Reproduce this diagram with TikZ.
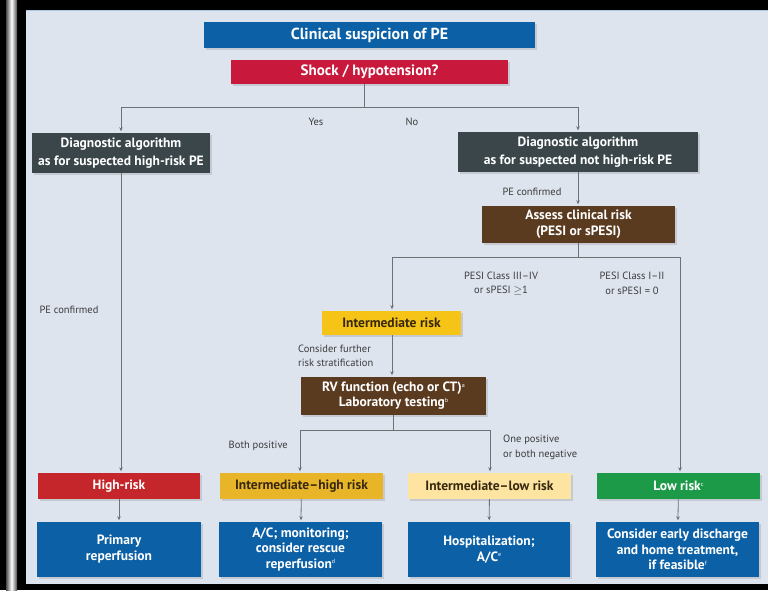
\documentclass[tikz,border=0pt]{standalone}
\usepackage{fontspec}
\setmainfont{PT Sans}
\usetikzlibrary{arrows.meta,shadows,calc}
\definecolor{bgc}{RGB}{221,228,238}
\definecolor{cblue}{RGB}{11,96,166}
\definecolor{cshock}{RGB}{200,24,60}
\definecolor{cslate}{RGB}{58,70,74}
\definecolor{cbrown}{RGB}{91,59,32}
\definecolor{cinter}{RGB}{246,196,23}
\definecolor{chigh}{RGB}{197,38,43}
\definecolor{cihigh}{RGB}{233,181,40}
\definecolor{cilow}{RGB}{253,228,160}
\definecolor{cgreen}{RGB}{28,154,72}
\definecolor{cline}{RGB}{110,112,115}
\definecolor{ctxt}{RGB}{60,60,60}
\definecolor{cdark}{RGB}{55,40,15}
\definecolor{ctop}{RGB}{170,200,230}
\newcommand\fnmark[1]{\raisebox{4.5pt}{\fontsize{6}{6}\selectfont\mdseries #1}}
\begin{document}
\begin{tikzpicture}[x=1pt,y=-1pt,
  box/.style={rectangle, inner sep=1pt, align=center, text=white,
    font=\bfseries\fontsize{13.5}{16}\selectfont,
    drop shadow={shadow xshift=1.5pt, shadow yshift=-1.5pt, opacity=0.25}},
  bigbox/.style={box, font=\bfseries\fontsize{16}{18}\selectfont},
  diagbox/.style={box, fill=cslate, font=\bfseries\fontsize{13.5}{18.5}\selectfont},
  lab/.style={inner sep=0pt, align=center, text=ctxt, font=\fontsize{10.5}{14.5}\selectfont},
  conn/.style={draw=cline, line width=0.8pt},
  arr/.style={conn, -{Stealth[length=4pt,width=3.5pt]}, shorten >=1.5pt}]
\useasboundingbox (0,0) rectangle (768,590);
\fill[black] (0,0) rectangle (768,590);
\shade[left color=black!70, right color=black!70, middle color=white] (6,0) rectangle (17,590);
\fill[bgc] (26,10) rectangle (768,584);
\draw[ctop, line width=0.8pt] (26,10.5) -- (768,10.5);

% boxes
\node[bigbox, fill=cblue, minimum width=331pt, minimum height=26pt] (clin) at (369.5,35) {Clinical suspicion of PE};
\node[bigbox, fill=cshock, minimum width=277pt, minimum height=24pt, font=\bfseries\fontsize{15}{18}\selectfont] (shock) at (369.5,72) {Shock / hypotension?};
\node[diagbox, minimum width=178pt, minimum height=40pt] (diagH) at (121,153) {Diagnostic algorithm\\as for suspected high-risk PE};
\node[diagbox, minimum width=240pt, minimum height=40pt] (diagN) at (578,152) {Diagnostic algorithm\\as for suspected not high-risk PE};
\node[box, fill=cbrown, minimum width=193pt, minimum height=37pt] (assess) at (578.5,224.5) {Assess clinical risk\\(PESI or sPESI)};
\node[box, fill=cinter, text=cdark, minimum width=139pt, minimum height=24pt] (inter) at (391.5,323) {Intermediate risk};
\node[box, fill=cbrown, minimum width=185pt, minimum height=38pt, font=\bfseries\fontsize{13.5}{15}\selectfont] (rv) at (393.5,396) {RV function (echo or CT)\fnmark{a}\\Laboratory testing\fnmark{b}};
\node[box, fill=chigh, minimum width=162pt, minimum height=26pt] (high) at (119,486) {High-risk};
\node[box, fill=cihigh, text=cdark, minimum width=163pt, minimum height=26pt] (ihigh) at (301.5,486) {Intermediate–high risk};
\node[box, fill=cilow, text=cdark, minimum width=163pt, minimum height=26pt] (ilow) at (489.5,486) {Intermediate–low risk};
\node[box, fill=cgreen, minimum width=163pt, minimum height=26pt] (low) at (678.5,486) {Low risk\fnmark{c}};
\node[box, fill=cblue, minimum width=164pt, minimum height=55pt] (r1) at (119,549.5) {Primary\\reperfusion};
\node[box, fill=cblue, minimum width=163pt, minimum height=55pt, font=\bfseries\fontsize{13.5}{15.5}\selectfont] (r2) at (300.5,549.5) {A/C; monitoring;\\consider rescue\\reperfusion\fnmark{d}};
\node[box, fill=cblue, minimum width=162pt, minimum height=55pt] (r3) at (489,549.5) {Hospitalization;\\A/C\fnmark{e}};
\node[box, fill=cblue, minimum width=163pt, minimum height=55pt, font=\bfseries\fontsize{13.5}{15.5}\selectfont] (r4) at (677.5,549.5) {Consider early discharge\\and home treatment,\\if feasible\fnmark{f}};

% junctions
\coordinate (j1) at (364,107);
\coordinate (j2) at (578.5,257);
\coordinate (j3) at (393,430);

% connectors
\draw[conn] (shock.south -| j1) -- (j1);
\draw[arr] (j1) -| (diagH.north);
\draw[arr] (j1) -| (diagN.north);
\draw[arr] (diagH.south) -- (diagH.south |- high.north);
\draw[arr] (diagN.south) -- (diagN.south |- assess.north);
\draw[conn] (assess.south) -- (j2);
\draw[arr] (j2) -| (inter.north -| 392,0);
\draw[arr] (j2) -| (low.north -| 680,0);
\draw[arr] (inter.south -| 392,0) -- (rv.north -| 392,0);
\draw[conn] (rv.south -| j3) -- (j3);
\draw[arr] (j3) -| (ihigh.north -| 300,0);
\draw[arr] (j3) -| (ilow.north -| 490,0);
\draw[arr] (high) -- (r1);
\draw[arr] (ihigh) -- (r2);
\draw[arr] (ilow) -- (r3);
\draw[arr] (low) -- (r4);

% labels
\node[lab] (lyes) at (316,122) {Yes};
\node[lab] (lno) at (412,122) {No};
\node[lab] (lpe1) at (69,310) {PE confirmed};
\node[lab] (lpe2) at (532,192) {PE confirmed};
\node[lab] (lpesi1) at (501,283.5) {PESI Class III–IV\\or sPESI $\geq$1};
\node[lab] (lpesi2) at (632,283.5) {PESI Class I–II\\or sPESI = 0};
\node[lab, align=left, anchor=west, font=\fontsize{10.5}{14}\selectfont] (lcons) at (298,356) {Consider further\\risk stratification};
\node[lab, anchor=east] (lboth) at (288,446) {Both positive};
\node[lab, align=left, anchor=west] (lone) at (503,447.5) {One positive\\or both negative};
\end{tikzpicture}
\end{document}
